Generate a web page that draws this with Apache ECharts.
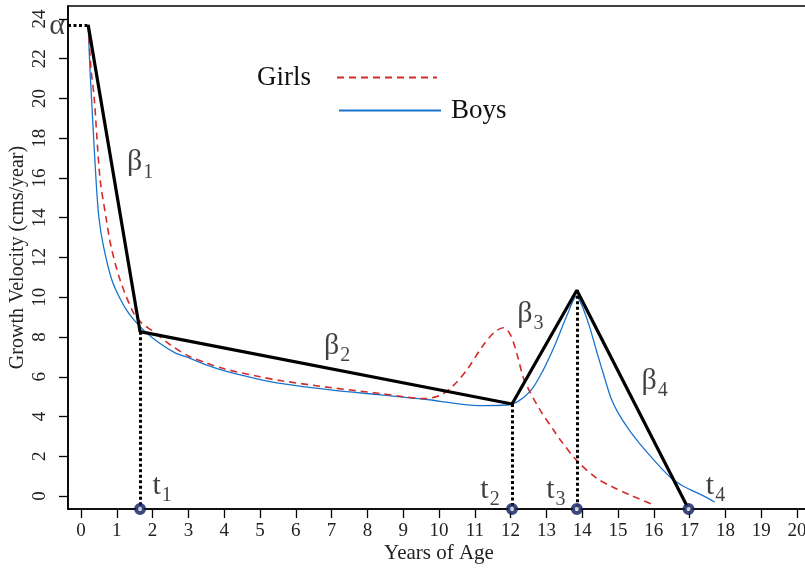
<!DOCTYPE html>
<html>
<head>
<meta charset="utf-8">
<script src="https://cdn.jsdelivr.net/npm/echarts@6/dist/echarts.min.js"></script>
<style>
  html, body { margin: 0; padding: 0; background: #fff; }
  #chart { width: 805px; height: 569px; }
</style>
</head>
<body>
<div id="chart"></div>
<script>
// Axis ticks
const ageTicks = [0, 1, 2, 3, 4, 5, 6, 7, 8, 9, 10, 11, 12, 13, 14, 15, 16, 17, 18, 19, 20];
const velocityTicks = [0, 2, 4, 6, 8, 10, 12, 14, 16, 18, 20, 22, 24];

// Girls: growth velocity curve (cms/year) against age (years)
const girlsAge = [0.2, 0.28, 0.37, 0.53, 0.7, 0.84, 1.09, 1.47, 1.7, 2.0, 2.5, 3.0, 3.5, 4.0, 5.0, 5.6, 7.0, 8.4, 9.0, 9.6,
  10.06, 10.42, 10.8, 11.2, 11.55, 11.8, 12.0, 12.2, 12.38, 12.8, 13.2, 13.4, 13.84, 14.4, 14.8, 15.4, 15.94];
const girlsVelocity = [23.7, 21.5, 20.0, 16.0, 14.0, 12.55, 10.88, 9.2, 8.7, 8.3, 7.6, 7.05, 6.7, 6.4, 6.0, 5.8, 5.45, 5.15, 5.0, 4.9,
  5.09, 5.59, 6.4, 7.5, 8.25, 8.47, 8.1, 7.0, 5.84, 4.4, 3.32, 2.8, 1.8, 0.9, 0.5, 0.0, -0.4];

// Boys: growth velocity curve (cms/year) against age (years)
const boysAge = [0.2, 0.25, 0.3, 0.42, 0.5, 0.63, 0.86, 1.1, 1.33, 1.61, 2.0, 2.63, 3.05, 3.5, 3.99, 4.8, 5.57, 6.97, 8.38, 9.59,
  10.6, 11.2, 11.9, 12.2, 12.58, 12.9, 13.22, 13.6, 13.84, 14.0, 14.2, 14.4, 14.6, 14.8, 15.0, 15.3, 15.6, 15.9, 16.2, 16.5,
  16.8, 17.1, 17.4, 17.7];
const boysVelocity = [23.7, 21.5, 19.8, 15.9, 14.0, 12.55, 10.88, 9.9, 9.2, 8.6, 7.95, 7.2, 6.93, 6.6, 6.31, 5.95, 5.67, 5.34, 5.09, 4.87,
  4.63, 4.55, 4.58, 4.75, 5.34, 6.3, 7.52, 9.2, 10.05, 9.55, 8.55, 7.3, 6.1, 4.95, 4.2, 3.35, 2.65, 2.02, 1.42, 0.88,
  0.52, 0.25, 0.0, -0.3];

// Piecewise linear model: alpha intercept, knots t1..t4
const knotAge = [0.2, 1.65, 12.04, 13.85, 16.97];
const knotVelocity = [23.7, 8.27, 4.63, 10.35];   // t4 sits on the floor of the plot

const ageRange = [-0.363, 20.363];
const velocityRange = [-0.65, 24.65];

const SERIF = "'Liberation Serif', 'DejaVu Serif', serif";
const INK = '#111';

const pairs = (xs, ys) => xs.map((x, i) => [x, ys[i]]);

const floorY = velocityRange[0];
const modelLine = knotAge.map((t, i) => [t, i < knotVelocity.length ? knotVelocity[i] : floorY]);

// Dotted guides: alpha level to the left axis, and t1..t3 down to the floor
const guideLines = [
  [{ coord: [ageRange[0], modelLine[0][1]] }, { coord: modelLine[0] }]
].concat(modelLine.slice(1, 4).map(p => [{ coord: p }, { coord: [p[0], floorY] }]));

const richStyle = {
  m: { fontFamily: SERIF, fontSize: 30, lineHeight: 36, verticalAlign: 'middle', color: INK },
  s: { fontFamily: SERIF, fontSize: 20, lineHeight: 20, padding: [18, 0, 0, 1], verticalAlign: 'top', color: INK }
};
const symText = (main, sub) => sub ? '{m|' + main + '}{s|' + sub + '}' : '{m|' + main + '}';

// Labels anchored to the model: beta_i at segment midpoints, t_i at the knots on the axis
const labelItems = [];
labelItems.push({ value: [ageRange[0], modelLine[0][1]], text: symText('α'), offset: [-11, 1] });
const betaOffsets = [[26, -16], [11, -22], [-14, -33], [22, -19]];
for (let i = 0; i < 4; i++) {
  const a = modelLine[i], b = modelLine[i + 1];
  labelItems.push({ value: [(a[0] + b[0]) / 2, (a[1] + b[1]) / 2], text: symText('β', String(i + 1)), offset: betaOffsets[i] });
}
const tOffsets = [[22, -23], [-22, -19], [-21, -19], [27, -23]];
for (let i = 1; i < 5; i++) {
  labelItems.push({ value: [knotAge[i], floorY], text: symText('t', String(i)), offset: tOffsets[i - 1] });
}

const chart = echarts.init(document.getElementById('chart'), null, { renderer: 'canvas' });

const legendBase = {
  orient: 'horizontal', itemHeight: 14, padding: 0, selectedMode: false,
  itemStyle: { opacity: 0 }, lineStyle: { width: 2 }
};

chart.setOption({
  animation: false,
  backgroundColor: '#fff',
  grid: {
    left: 68, top: 6, right: -5, bottom: 60,
    show: true, borderColor: '#000', borderWidth: 1.5, backgroundColor: 'transparent',
    containLabel: false, outerBoundsMode: 'none'
  },
  legend: [
    Object.assign({}, legendBase, {
      data: ['Girls'], left: 257, top: 64, align: 'right', itemWidth: 100,
      textStyle: { fontFamily: SERIF, fontSize: 27, color: INK, padding: [0, 21, 0, 0] }
    }),
    Object.assign({}, legendBase, {
      data: ['Boys'], left: 338, top: 97, align: 'left', itemWidth: 102,
      textStyle: { fontFamily: SERIF, fontSize: 27, color: INK, padding: [0, 0, 0, 5] }
    })
  ],
  xAxis: {
    type: 'value', min: ageRange[0], max: ageRange[1],
    name: 'Years of Age', nameLocation: 'middle', nameGap: 34, nameMoveOverlap: false,
    nameTextStyle: { fontFamily: SERIF, fontSize: 21, color: '#222' },
    axisLine: { show: true, onZero: false, lineStyle: { color: '#000', width: 1.6 } },
    axisTick: { show: true, length: 9, customValues: ageTicks, lineStyle: { color: '#000', width: 1.3 } },
    axisLabel: { customValues: ageTicks, fontFamily: SERIF, fontSize: 19, color: '#222', margin: 13 },
    splitLine: { show: false }
  },
  yAxis: {
    type: 'value', min: velocityRange[0], max: velocityRange[1],
    name: 'Growth Velocity (cms/year)', nameLocation: 'middle', nameGap: 40, nameRotate: 90, nameMoveOverlap: false,
    nameTextStyle: { fontFamily: SERIF, fontSize: 20, color: '#222' },
    axisLine: { show: true, onZero: false, lineStyle: { color: '#000', width: 1.6 } },
    axisTick: { show: true, length: 9, customValues: velocityTicks, lineStyle: { color: '#000', width: 1.3 } },
    axisLabel: { customValues: velocityTicks, rotate: 90, fontFamily: SERIF, fontSize: 19, color: '#222', margin: 18 },
    splitLine: { show: false }
  },
  series: [
    {
      name: 'Boys', type: 'line', data: pairs(boysAge, boysVelocity), smooth: 0.3,
      symbol: 'none', lineStyle: { color: '#1874CD', width: 1.3 }, itemStyle: { color: '#1874CD' }, z: 2
    },
    {
      name: 'Girls', type: 'line', data: pairs(girlsAge, girlsVelocity), smooth: 0.3,
      symbol: 'none', lineStyle: { color: '#D42B2B', width: 1.6, type: [7, 5] }, itemStyle: { color: '#D42B2B' }, z: 3
    },
    {
      name: 'model', type: 'line', data: modelLine, symbol: 'none',
      lineStyle: { color: '#000', width: 3.2 }, z: 4,
      markLine: {
        silent: true, symbol: 'none', animation: false,
        label: { show: false },
        lineStyle: { color: '#000', width: 3, type: [3, 2.5] },
        data: guideLines
      }
    },
    {
      name: 'knots', type: 'scatter', data: knotAge.slice(1).map(t => [t, floorY]),
      symbol: 'circle', symbolSize: 8, clip: false, z: 6,
      itemStyle: { color: '#fff', borderColor: '#0d1b5e', borderWidth: 4 }
    },
    {
      name: 'labels', type: 'scatter', symbolSize: 1, clip: false, z: 7, silent: true,
      itemStyle: { color: 'rgba(0,0,0,0)' },
      data: labelItems.map(d => ({
        value: d.value,
        label: {
          show: true, position: 'inside', offset: d.offset,
          formatter: d.text, rich: richStyle
        }
      }))
    }
  ]
});
</script>
</body>
</html>
